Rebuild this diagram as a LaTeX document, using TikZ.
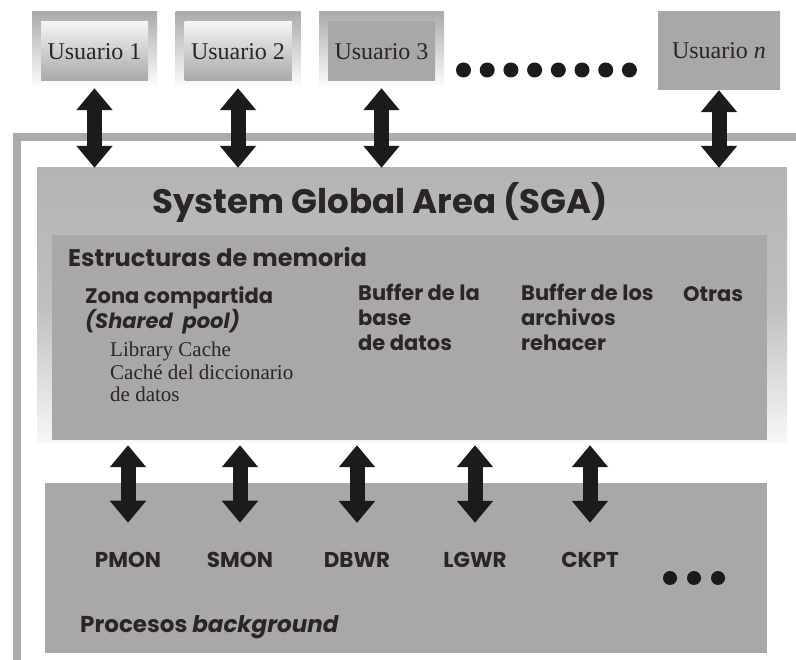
\documentclass[tikz,border=0pt]{standalone}
\usepackage{fontspec}
\setmainfont{Liberation Serif}
\newfontfamily\geofont{Poppins}
\usepackage{tikz}
\usetikzlibrary{arrows.meta, positioning, calc}
\definecolor{figgray}{HTML}{A9A7A8}
\definecolor{framegray}{HTML}{ABABAB}
\definecolor{sgagray}{HTML}{B4B4B4}
\definecolor{figblack}{HTML}{1C1A1A}
\definecolor{figtext}{HTML}{2A2627}
\tikzset{
  userframe/.style={top color=framegray, bottom color=white, minimum width=125pt,
    minimum height=76pt, inner sep=0pt},
  userbox/.style={top color=white!96!black, bottom color=figgray, minimum width=107pt,
    minimum height=59pt, inner sep=0pt, text=figtext, font=\fontsize{24}{27}\selectfont},
  userflat/.style={userbox, top color=figgray, bottom color=figgray},
  sgabox/.style={top color=sgagray, bottom color=white!97!black, middle color=sgagray!85,
    inner sep=0pt},
  membox/.style={fill=figgray, inner sep=0pt},
  figarrow/.style={{Triangle[width=35pt,length=22pt]}-{Triangle[width=35pt,length=22pt]},
    line width=15pt, figblack},
  figtitle/.style={font=\geofont\bfseries\fontsize{34}{40}\selectfont, text=figtext, inner sep=0pt},
  fighead/.style={font=\geofont\bfseries\fontsize{24}{28}\selectfont, text=figtext, inner sep=0pt},
  figlabel/.style={font=\geofont\bfseries\fontsize{21}{25}\selectfont, text=figtext,
    align=left, inner sep=0pt},
  figserif/.style={font=\fontsize{21}{22.5}\selectfont, text=figtext, align=left, inner sep=0pt},
  proclabel/.style={font=\geofont\bfseries\fontsize{21.5}{24}\selectfont, text=figtext},
}

\begin{document}
\begin{tikzpicture}[x=1pt, y=-1pt]
  \useasboundingbox (0,0) rectangle (796,660);
  \draw[framegray, line width=8pt] (16.5,660) -- (16.5,137.5) -- (796,137.5);
  % SGA y estructuras
  \node[sgabox, minimum width=750pt, minimum height=275pt] (sga) at (412,305.5) {};
  \node[membox, minimum width=715pt, minimum height=205pt] (mem) at (409.5,337.5) {};
  \node[membox, minimum width=722pt, minimum height=170pt] (proc) at (406,568) {};
  \node[figtitle] (title) at (380,202) {System Global Area (SGA)};
  \node[fighead, anchor=north west] (estr) at (68,247) {Estructuras de memoria};
  \node[figlabel, anchor=north west] (zona) at (85,286) {Zona compartida\\\textit{(Shared\ \ pool)}};
  \node[figserif, anchor=north west] (cache) at (110,342) {Library Cache\\Caché del diccionario\\de datos};
  \node[figlabel, anchor=north west] (bufdb) at (358,284) {Buffer de la\\base\\de datos};
  \node[figlabel, anchor=north west] (bufredo) at (521,284) {Buffer de los\\archivos\\rehacer};
  \node[figlabel, anchor=north west] (otras) at (683,286) {Otras};
  % usuarios
  \foreach \i/\x/\s in {1/94.5/userbox, 2/238/userbox, 3/381.5/userflat} {
    \node[userframe] (f\i) at (\x,50) {};
    \node[\s] (u\i) at (\x,51.5) {Usuario \i};
  }
  \node[userflat, minimum width=122pt, minimum height=78pt] (fn) at (719,51) {Usuario \textit{n}};
  \foreach \k in {0,...,7}
    \fill[figblack] (463.5+23.7*\k,70) circle (7.5pt);
  \foreach \i in {1,2,3,n}
    \draw[figarrow] (f\i.south) -- (f\i.south |- sga.north);
  % procesos
  \node[proclabel] (pmon) at (128,560) {PMON};
  \node[proclabel] (smon) at (240,560) {SMON};
  \node[proclabel] (dbwr) at (357,560) {DBWR};
  \node[proclabel] (lgwr) at (475,560) {LGWR};
  \node[proclabel] (ckpt) at (590,560) {CKPT};
  \foreach \p in {pmon,smon,dbwr,lgwr,ckpt}
    \draw[figarrow, shorten <=5pt, shorten >=26pt] (\p |- mem.south) -- (\p.north);
  \foreach \k in {0,1,2}
    \fill[figblack] (670+24*\k,578) circle (7pt);
  \node[fighead, anchor=base west, font=\geofont\bfseries\fontsize{23}{26}\selectfont] (bg) at (80,632) {Procesos \textit{background}};
\end{tikzpicture}
\end{document}
